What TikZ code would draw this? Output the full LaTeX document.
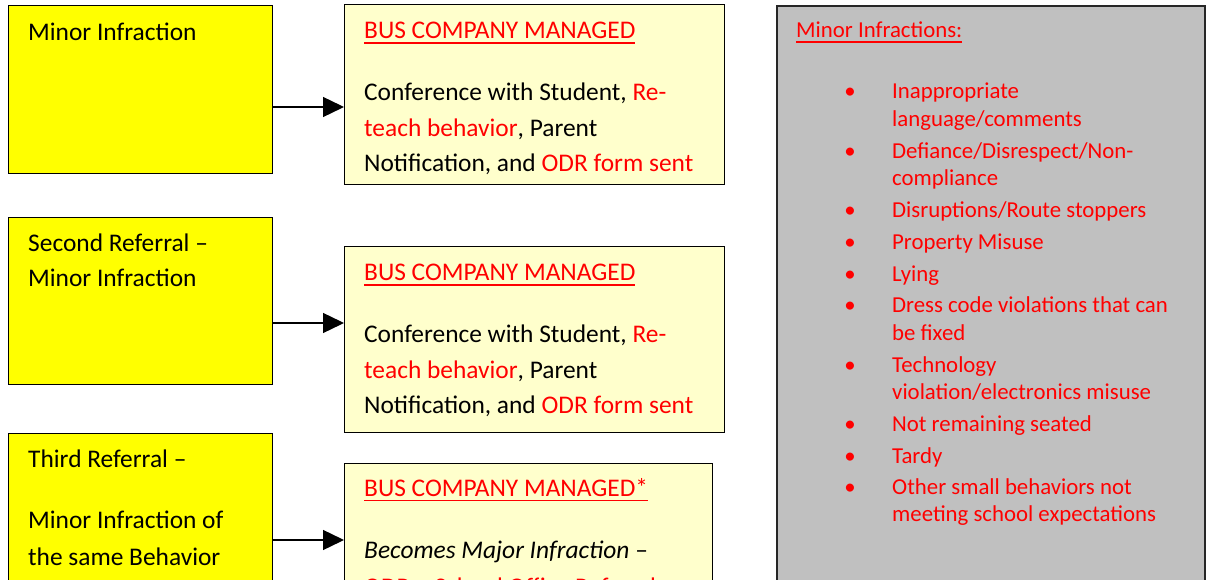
\documentclass[tikz,border=0pt]{standalone}
\usepackage{fontspec}
\setmainfont{Carlito}
\usetikzlibrary{arrows.meta}
\definecolor{yel}{HTML}{FFFF00}
\definecolor{lyel}{HTML}{FFFFCC}
\definecolor{gry}{HTML}{C0C0C0}
\definecolor{rd}{HTML}{FF0000}
\newcommand{\myul}[1]{\setbox0\hbox{#1}\rlap{\rule[-5pt]{\wd0}{1.3pt}}\box0}
\tikzset{
  box/.style={draw=black, line width=1.4pt, rectangle, inner sep=0, anchor=north west},
  ybox/.style={box, fill=yel},
  lbox/.style={box, fill=lyel},
  gbox/.style={box, fill=gry, line width=1.8pt, draw=black!85},
  txt/.style={anchor=base west, inner sep=0, font=\fontsize{25.4}{30}\selectfont},
  rtxt/.style={anchor=base west, inner sep=0, text=rd, font=\fontsize{22.8}{27}\selectfont},
  bul/.style={anchor=base, inner sep=0, text=rd, font=\fontsize{22.8}{27}\selectfont},
  conn/.style={line width=1.4pt, -{Triangle[length=21pt,width=20pt]}}
}
\begin{document}
\begin{tikzpicture}[x=1pt,y=-1pt]
\useasboundingbox (0,0) rectangle (1208,580);
\clip (0,0) rectangle (1208,580);
\fill[white] (0,0) rectangle (1208,580);
% left yellow boxes
\node[ybox, minimum width=264pt, minimum height=168pt] (y1) at (8,5) {};
\node[ybox, minimum width=264pt, minimum height=167pt] (y2) at (8,217) {};
\node[ybox, minimum width=264pt, minimum height=180pt] (y3) at (8,433) {};
% light boxes
\node[lbox, minimum width=380pt, minimum height=180pt] (l1) at (344,4) {};
\node[lbox, minimum width=380pt, minimum height=186pt] (l2) at (344,246) {};
\node[lbox, minimum width=368pt, minimum height=150pt] (l3) at (344,463) {};
% grey panel
\node[gbox, minimum width=428pt, minimum height=600pt] (g) at (776,5) {};
% arrows
\coordinate (r1) at (0,107);
\coordinate (r2) at (0,323);
\coordinate (r3) at (0,540);
\draw[conn] (y1.east |- r1) -- (l1.west |- r1);
\draw[conn] (y2.east |- r2) -- (l2.west |- r2);
\draw[conn] (y3.east |- r3) -- (l3.west |- r3);
% yellow box texts
\node[txt] (t1) at (28,40.5) {Minor Infraction};
\node[txt] (t2a) at (28,251.5) {Second Referral –};
\node[txt] (t2b) at (28,286.5) {Minor Infraction};
\node[txt] (t3a) at (28,467) {Third Referral –};
\node[txt] (t3b) at (28,528.5) {Minor Infraction of};
\node[txt] (t3c) at (28,565) {the same Behavior};
% light box 1
\node[txt, text=rd] (b1) at (364,38.7) {\myul{BUS COMPANY MANAGED}};
\node[txt] (c1a) at (364,101) {Conference with Student, \textcolor{rd}{Re-}};
\node[txt] (c1b) at (364,136.5) {\textcolor{rd}{teach behavior}, Parent};
\node[txt] (c1c) at (364,171.5) {Notification, and \textcolor{rd}{ODR form sent}};
% light box 2
\node[txt, text=rd] (b2) at (364,280.7) {\myul{BUS COMPANY MANAGED}};
\node[txt] (c2a) at (364,342.7) {Conference with Student, \textcolor{rd}{Re-}};
\node[txt] (c2b) at (364,378.3) {\textcolor{rd}{teach behavior}, Parent};
\node[txt] (c2c) at (364,413.3) {Notification, and \textcolor{rd}{ODR form sent}};
% light box 3
\node[txt, text=rd] (b3) at (364,496) {\myul{BUS COMPANY MANAGED*}};
\node[txt] (c3a) at (364,558.3) {\textit{Becomes Major Infraction} –};
\node[txt, text=rd] (c3b) at (364,595) {ODR – School Office Referral};
% grey panel
\node[rtxt] (gt) at (796,37.7) {\myul{Minor Infractions:}};
\node[bul] (d1) at (850,99) {•};
\node[rtxt] (i1a) at (892,99) {Inappropriate};
\node[rtxt] (i1b) at (892,126.7) {language/comments};
\node[bul] (d2) at (850,158.5) {•};
\node[rtxt] (i2a) at (892,158.5) {Defiance/Disrespect/Non-};
\node[rtxt] (i2b) at (892,185.5) {compliance};
\node[bul] (d3) at (850,218) {•};
\node[rtxt] (i3) at (892,218) {Disruptions/Route stoppers};
\node[bul] (d4) at (850,250) {•};
\node[rtxt] (i4) at (892,250) {Property Misuse};
\node[bul] (d5) at (850,281) {•};
\node[rtxt] (i5) at (892,281) {Lying};
\node[bul] (d6) at (850,312.5) {•};
\node[rtxt] (i6a) at (892,312.5) {Dress code violations that can};
\node[rtxt] (i6b) at (892,340) {be fixed};
\node[bul] (d7) at (850,372) {•};
\node[rtxt] (i7a) at (892,372) {Technology};
\node[rtxt] (i7b) at (892,399.5) {violation/electronics misuse};
\node[bul] (d8) at (850,431) {•};
\node[rtxt] (i8) at (892,431) {Not remaining seated};
\node[bul] (d9) at (850,463) {•};
\node[rtxt] (i9) at (892,463) {Tardy};
\node[bul] (d10) at (850,494) {•};
\node[rtxt] (i10a) at (892,494) {Other small behaviors not};
\node[rtxt] (i10b) at (892,521.5) {meeting school expectations};
\end{tikzpicture}
\end{document}
